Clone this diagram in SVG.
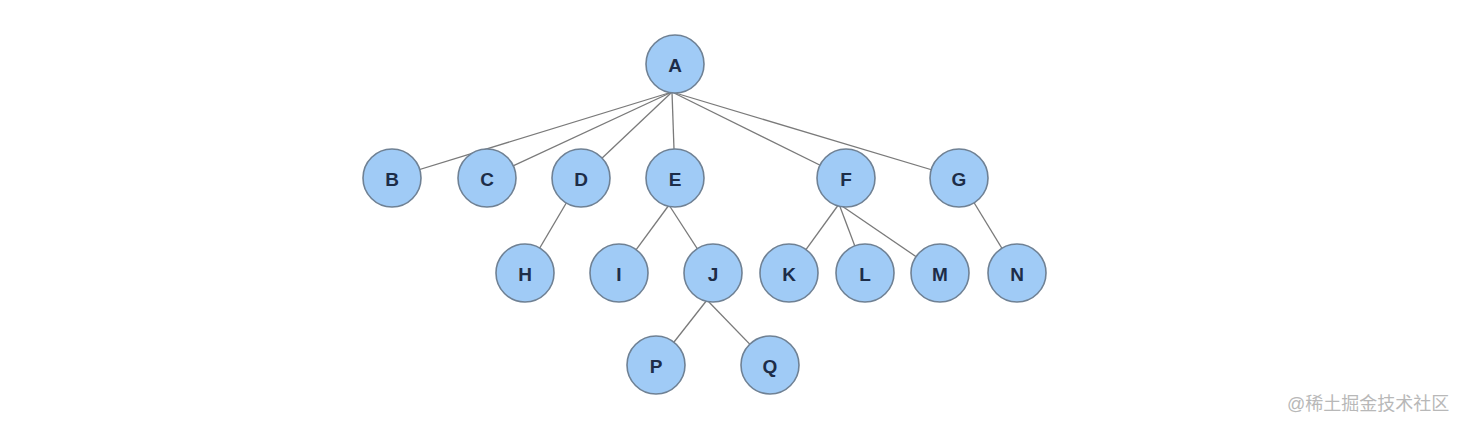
<svg xmlns="http://www.w3.org/2000/svg" width="1464" height="430" viewBox="0 0 1464 430">
<style>
.n circle{fill:#a0cbf6;stroke:#6f8194;stroke-width:1.6}
.n text{font-family:"Liberation Sans",Arial,sans-serif;font-size:19px;font-weight:bold;fill:#1d2d48;text-anchor:middle;dominant-baseline:central}
.e line{stroke:#7a7a7a;stroke-width:1.3}
.wm{font-family:"Liberation Sans","Noto Sans CJK SC",sans-serif;font-size:18px;fill:#b8b8b8}
</style>
<rect width="1464" height="430" fill="#fff"/>
<g id="connectors" class="e">
<line x1="672" y1="92" x2="392" y2="178"/>
<line x1="672" y1="92" x2="487" y2="178"/>
<line x1="672" y1="92" x2="581" y2="178"/>
<line x1="672" y1="92" x2="675" y2="178"/>
<line x1="672" y1="92" x2="846" y2="178"/>
<line x1="672" y1="92" x2="959" y2="178"/>
<line x1="581" y1="178" x2="525" y2="273"/>
<line x1="669" y1="205" x2="619" y2="273"/>
<line x1="669" y1="205" x2="713" y2="273"/>
<line x1="839" y1="204" x2="789" y2="273"/>
<line x1="839" y1="204" x2="865" y2="273"/>
<line x1="839" y1="204" x2="940" y2="273"/>
<line x1="959" y1="178" x2="1017" y2="273"/>
<line x1="707" y1="300" x2="656" y2="365"/>
<line x1="707" y1="300" x2="770" y2="365"/>
</g>
<g id="A" class="n"><circle cx="675" cy="64" r="29"/><text x="675" y="65">A</text></g>
<g id="B" class="n"><circle cx="392" cy="178" r="29"/><text x="392" y="179">B</text></g>
<g id="C" class="n"><circle cx="487" cy="178" r="29"/><text x="487" y="179">C</text></g>
<g id="D" class="n"><circle cx="581" cy="178" r="29"/><text x="581" y="179">D</text></g>
<g id="E" class="n"><circle cx="675" cy="178" r="29"/><text x="675" y="179">E</text></g>
<g id="F" class="n"><circle cx="846" cy="178" r="29"/><text x="846" y="179">F</text></g>
<g id="G" class="n"><circle cx="959" cy="178" r="29"/><text x="959" y="179">G</text></g>
<g id="H" class="n"><circle cx="525" cy="273" r="29"/><text x="525" y="274">H</text></g>
<g id="I" class="n"><circle cx="619" cy="273" r="29"/><text x="619" y="274">I</text></g>
<g id="J" class="n"><circle cx="713" cy="273" r="29"/><text x="713" y="274">J</text></g>
<g id="K" class="n"><circle cx="789" cy="273" r="29"/><text x="789" y="274">K</text></g>
<g id="L" class="n"><circle cx="865" cy="273" r="29"/><text x="865" y="274">L</text></g>
<g id="M" class="n"><circle cx="940" cy="273" r="29"/><text x="940" y="274">M</text></g>
<g id="N" class="n"><circle cx="1017" cy="273" r="29"/><text x="1017" y="274">N</text></g>
<g id="P" class="n"><circle cx="656" cy="365" r="29"/><text x="656" y="366">P</text></g>
<g id="Q" class="n"><circle cx="770" cy="365" r="29"/><text x="770" y="366">Q</text></g>
<text class="wm" x="1287" y="410">@稀土掘金技术社区</text>
</svg>
